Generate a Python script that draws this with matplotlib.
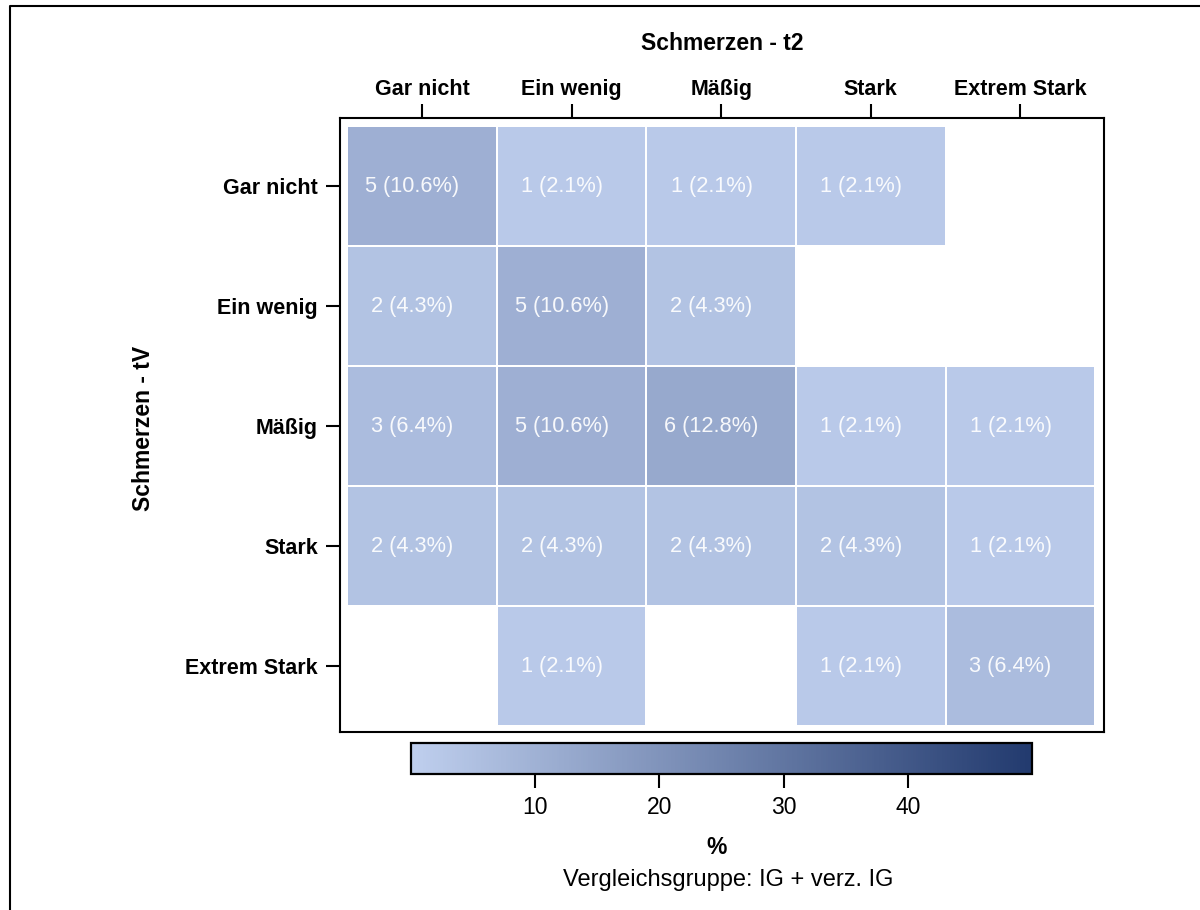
"""Heatmap Schmerzen tV vs. t2 (Vergleichsgruppe IG + verz. IG)."""
import numpy as np
import matplotlib
matplotlib.use("Agg")
import matplotlib.pyplot as plt
from matplotlib.colors import LinearSegmentedColormap, Normalize
from matplotlib.lines import Line2D

plt.rcParams.update({
    "font.family": ["Liberation Sans", "DejaVu Sans"],
    "axes.linewidth": 1.5,
})

stufen = ["Gar nicht", "Ein wenig", "Mäßig", "Stark", "Extrem Stark"]

# Anzahl Patienten: Zeilen = tV, Spalten = t2
n_gar_nicht = [5, 1, 1, 1, 0]
n_ein_wenig = [2, 5, 2, 0, 0]
n_maessig = [3, 5, 6, 1, 1]
n_stark = [2, 2, 2, 2, 1]
n_extrem = [0, 1, 0, 1, 3]

counts = np.array([n_gar_nicht, n_ein_wenig, n_maessig, n_stark, n_extrem])
pct = counts / counts.sum() * 100
pct_masked = np.ma.masked_where(counts == 0, pct)

cmap = LinearSegmentedColormap.from_list("blau", ["#BFCFEE", "#223A6E"])
norm = Normalize(vmin=0, vmax=50)

fig = plt.figure(figsize=(12, 9.1), dpi=100)
ax = fig.add_axes([0.2833, 0.1956, 0.6367, 0.6747])

edges = np.arange(6) - 0.5
mesh = ax.pcolormesh(edges, edges, pct_masked, cmap=cmap, norm=norm,
                     edgecolors="white", linewidth=1.3)

for i in range(5):
    for j in range(5):
        if counts[i, j] > 0:
            ax.text(j - 0.065, i, f"{counts[i, j]} ({pct[i, j]:.1f}%)",
                    ha="center", va="center", fontsize=15.7,
                    color="white", alpha=0.92)

ax.set_xlim(-0.55, 4.56)
ax.set_ylim(4.55, -0.57)
ax.xaxis.tick_top()
ax.set_xticks(range(5))
ax.set_yticks(range(5))
ax.set_xticklabels(stufen, fontsize=15.5, fontweight="bold")
ax.set_yticklabels(stufen, fontsize=15.5, fontweight="bold")
ax.tick_params(length=10, width=1.5, pad=6)
ax.tick_params(axis="x", pad=3)

fig.text(722 / 1200, 1 - 43 / 910, "Schmerzen - t2", ha="center", va="center",
         fontsize=16.5, fontweight="bold")
fig.text(143 / 1200, 1 - 428 / 910, "Schmerzen - tV", ha="center", va="center",
         rotation=90, fontsize=16.5, fontweight="bold")

# Farbskala unten
cax = fig.add_axes([0.3425, 0.1495, 0.5175, 0.0341])
cb = fig.colorbar(mesh, cax=cax, orientation="horizontal")
cb.set_ticks([10, 20, 30, 40])
cb.outline.set_linewidth(1.6)
cax.tick_params(length=10, width=1.5, pad=6, labelsize=16.5)

fig.text(717 / 1200, 1 - 848 / 910, "%", ha="center", va="center",
         fontsize=16.5, fontweight="bold")
fig.text(728 / 1200, 1 - 880 / 910, "Vergleichsgruppe: IG + verz. IG",
         ha="center", va="center", fontsize=17)

# Rahmen um die Grafik (links und oben)
fig.add_artist(Line2D([10 / 1200, 10 / 1200, 1.0], [0.0, 1 - 6 / 910, 1 - 6 / 910],
                      transform=fig.transFigure, color="black", lw=1.5))

fig.savefig("out.png", dpi=100, facecolor="white")
